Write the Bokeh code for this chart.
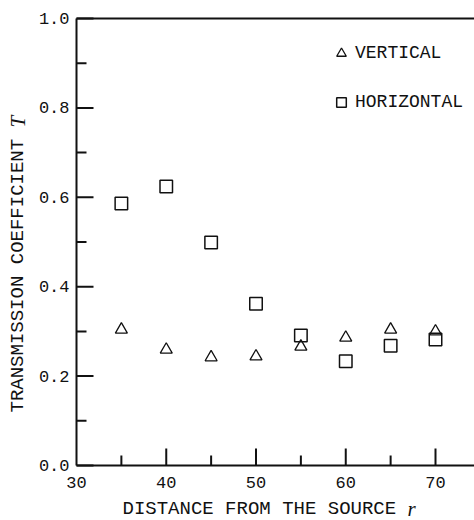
import math
from bokeh.plotting import figure
from bokeh.models import Range1d, Label, Legend, LegendItem
from bokeh.core.properties import value
from bokeh.embed import file_html
from bokeh.resources import INLINE

# ---- data ----
distance = [35, 40, 45, 50, 55, 60, 65, 70]
vertical = [0.304, 0.259, 0.242, 0.244, 0.266, 0.286, 0.304, 0.300]
horizontal = [0.586, 0.624, 0.499, 0.362, 0.291, 0.233, 0.268, 0.282]

x_ticks = [30, 40, 50, 60, 70]
x_minor = [35, 45, 55, 65]
y_ticks = [0.0, 0.2, 0.4, 0.6, 0.8, 1.0]
y_minor = [0.1, 0.3, 0.5, 0.7, 0.9]
x_tick_labels = ["30", "40", "50", "60", "70"]
y_tick_labels = ["0.0", "0.2", "0.4", "0.6", "0.8", "1.0"]

x_label = "DISTANCE FROM THE SOURCE "
x_label_var = "r"
y_label = "TRANSMISSION COEFFICIENT "
y_label_var = "T"
series_names = ["VERTICAL", "HORIZONTAL"]

FONT = "Liberation Mono"
IFONT = "Liberation Serif"
INK = "#111111"

W, H = 474, 520
# plotting area of the reference: x=30 at px 76 (8.975 px/unit), y: 1.0 at px 18, 0.0 at px 465
x0 = x_ticks[0] - 76 / 8.975
x1 = x_ticks[0] + (W - 76) / 8.975
y1 = y_ticks[-1] + 18 / 447.0
y0 = y_ticks[0] - (H - 465) / 447.0

p = figure(width=W, height=H, output_backend="svg", toolbar_location=None,
           x_range=Range1d(x0, x1), y_range=Range1d(y0, y1),
           min_border=0, x_axis_location=None, y_axis_location=None)
p.outline_line_color = None
p.grid.visible = False
p.background_fill_color = "white"
p.border_fill_color = "white"

xa = x_ticks[0]
ya = y_ticks[0]

# axis lines and top frame line
p.segment(x0=[xa], y0=[ya], x1=[xa], y1=[y_ticks[-1]], line_color=INK, line_width=2)
p.ray(x=[xa, xa], y=[ya, y_ticks[-1]], length=0, angle=0, line_color=INK, line_width=2)

# inward ticks
p.ray(x=[xa] * len(y_ticks), y=y_ticks, length=17, length_units="screen", angle=0,
      line_color=INK, line_width=2)
p.ray(x=[xa] * len(y_minor), y=y_minor, length=10, length_units="screen", angle=0,
      line_color=INK, line_width=2)
p.ray(x=x_ticks[1:], y=[ya] * (len(x_ticks) - 1), length=17, length_units="screen",
      angle=math.pi / 2, line_color=INK, line_width=2)
p.ray(x=x_minor, y=[ya] * len(x_minor), length=10, length_units="screen",
      angle=math.pi / 2, line_color=INK, line_width=2)

# tick labels
p.text(x=[xa] * len(y_ticks), y=y_ticks, text=y_tick_labels, x_offset=-7,
       text_align="right", text_baseline="middle", text_font=value(FONT),
       text_font_size="17px", text_color=INK)
p.text(x=x_ticks, y=[ya] * len(x_ticks), text=x_tick_labels, y_offset=11,
       text_align="center", text_baseline="top", text_font=value(FONT),
       text_font_size="17px", text_color=INK)

# data
r_v = p.scatter(distance, vertical, marker="triangle", size=12, fill_color=None,
                line_color=INK, line_width=1.3)
r_h = p.scatter(distance, horizontal, marker="square", size=12.5, fill_color=None,
                line_color=INK, line_width=1.5)

legend = Legend(items=[LegendItem(label=series_names[0], renderers=[r_v]),
                       LegendItem(label=series_names[1], renderers=[r_h])],
                location=(329, 406), orientation="vertical",
                glyph_width=24, glyph_height=24, label_standoff=2, spacing=25,
                padding=0, margin=0, border_line_color=None,
                background_fill_alpha=0,
                label_text_font=FONT, label_text_font_size="18px",
                label_text_color=INK, label_height=24)
p.add_layout(legend)

# axis titles (with italic variable letters)
p.add_layout(Label(x=122, y=12, x_units="screen", y_units="screen", text=x_label,
                   text_font=FONT, text_font_size="19px", text_color=INK,
                   text_align="left", text_baseline="alphabetic"))
p.add_layout(Label(x=122 + 285, y=12, x_units="screen", y_units="screen", text=x_label_var,
                   text_font=IFONT, text_font_style="italic", text_font_size="21px",
                   text_color=INK, text_align="left", text_baseline="alphabetic"))
p.add_layout(Label(x=17, y=108, x_units="screen", y_units="screen", text=y_label,
                   angle=math.pi / 2, text_font=FONT, text_font_size="19px",
                   text_color=INK, text_align="left", text_baseline="alphabetic"))
p.add_layout(Label(x=17, y=108 + 285, x_units="screen", y_units="screen", text=y_label_var,
                   angle=math.pi / 2, text_font=IFONT, text_font_style="italic",
                   text_font_size="21px", text_color=INK, text_align="left",
                   text_baseline="alphabetic"))

open("out.html", "w").write(file_html(p, INLINE))
